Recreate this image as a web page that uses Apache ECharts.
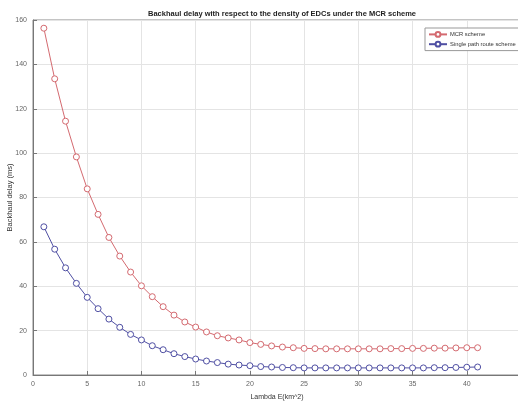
<!DOCTYPE html>
<html><head><meta charset="utf-8">
<script src="https://cdn.jsdelivr.net/npm/echarts@6/dist/echarts.min.js"></script>
<style>html,body{margin:0;padding:0;background:#fff}#c{width:518px;height:409px}</style>
</head><body><div id="c"></div>
<script>
const lambdaE = [1,2,3,4,5,6,7,8,9,10,11,12,13,14,15,16,17,18,19,20,21,22,23,24,25,26,27,28,29,30,31,32,33,34,35,36,37,38,39,40,41];
const mcrDelay = [156.3,133.5,114.4,98.3,83.9,72.4,62,53.6,46.4,40.2,35.3,30.8,27,23.9,21.6,19.4,17.7,16.7,15.8,14.6,13.8,13.1,12.6,12.3,12.0,11.9,11.8,11.8,11.8,11.8,11.8,11.8,11.9,11.9,12.0,12.0,12.1,12.1,12.2,12.3,12.3];
const singleDelay = [66.8,56.7,48.3,41.3,35,29.9,25.2,21.5,18.3,15.8,13.2,11.4,9.6,8.3,7.2,6.3,5.6,4.9,4.5,4.2,3.8,3.6,3.4,3.3,3.2,3.2,3.2,3.2,3.2,3.2,3.2,3.2,3.2,3.2,3.2,3.2,3.3,3.3,3.4,3.5,3.6];
const seriesNames = ['MCR scheme','Single path route scheme'];
const titleText = 'Backhaul delay with respect to the density of EDCs under the MCR scheme';
const xName = 'Lambda E(km^2)';
const yName = 'Backhaul delay (ms)';

const font = '"Liberation Sans", Arial, sans-serif';
const chart = echarts.init(document.getElementById('c'));
const toPairs = ys => lambdaE.map((x,i)=>[x, ys[i]]);
chart.setOption({
  backgroundColor:'#fff',
  animation:false,
  title:{text:titleText,left:277,textAlign:'center',top:5,textStyle:{fontFamily:font,fontSize:7.5,fontWeight:'bold',color:'#222'}},
  grid:{left:33,right:-3,top:20,bottom:34,outerBoundsMode:'none',containLabel:false,show:true,borderColor:'#888',borderWidth:1,backgroundColor:'transparent'},
  legend:{orient:'vertical',left:425,top:28,itemWidth:18,itemHeight:6,itemGap:3,padding:[3,3,3,3],
    borderColor:'#999',borderWidth:1,backgroundColor:'#fff',
    textStyle:{fontFamily:font,fontSize:5.8,color:'#333',padding:[0,0,0,-2]},data:seriesNames},
  xAxis:{type:'value',min:0,max:45,interval:5,
    name:xName,nameLocation:'middle',nameGap:19,nameMoveOverlap:false,nameTextStyle:{fontFamily:font,fontSize:7,color:'#333'},
    axisLine:{show:true,lineStyle:{color:'#777'}},axisTick:{show:true,inside:true,length:4,lineStyle:{color:'#777'}},
    axisLabel:{fontFamily:font,fontSize:7,color:'#666',margin:6,showMaxLabel:false},
    splitLine:{show:true,lineStyle:{color:'#e4e4e4'}}},
  yAxis:{type:'value',min:0,max:160,interval:20,
    name:yName,nameLocation:'middle',nameGap:19,nameMoveOverlap:false,nameTextStyle:{fontFamily:font,fontSize:7.5,color:'#333'},
    axisLine:{show:true,lineStyle:{color:'#777'}},axisTick:{show:true,inside:true,length:4,lineStyle:{color:'#777'}},
    axisLabel:{fontFamily:font,fontSize:7,color:'#666',margin:6},
    splitLine:{show:true,lineStyle:{color:'#e4e4e4'}}},
  series:[
    {name:seriesNames[0],type:'line',data:toPairs(mcrDelay),symbol:'circle',symbolSize:6,
      lineStyle:{color:'#d46a70',width:1},itemStyle:{color:'#fff',borderColor:'#d46a70',borderWidth:1},color:'#d46a70'},
    {name:seriesNames[1],type:'line',data:toPairs(singleDelay),symbol:'circle',symbolSize:6,
      lineStyle:{color:'#4f4fa3',width:1},itemStyle:{color:'#fff',borderColor:'#4f4fa3',borderWidth:1},color:'#4f4fa3'}
  ]
});
</script></body></html>
